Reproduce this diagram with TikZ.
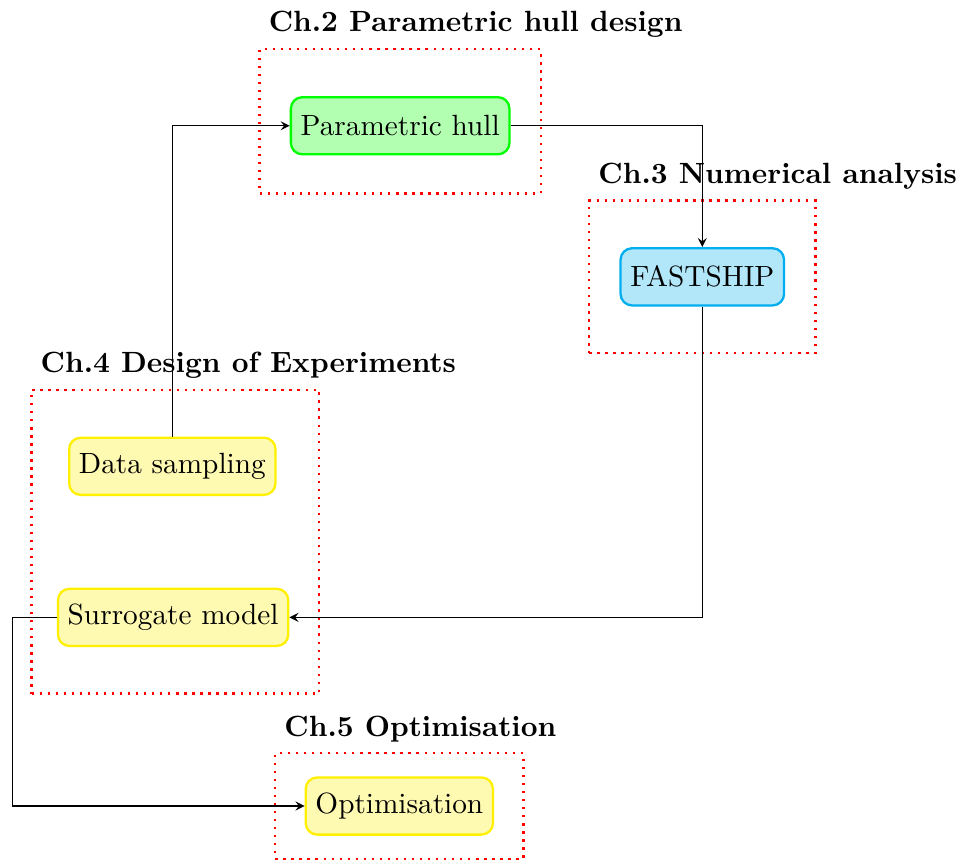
\documentclass[tikz,border=0pt]{standalone}
\usetikzlibrary{fit,positioning}
\definecolor{shipcyan}{RGB}{0,174,239}
\definecolor{doeyellow}{RGB}{255,240,0}
\tikzset{
  block/.style={draw, rounded corners, thick, minimum height=7mm},
  chapter/.style={draw=red, dotted, thick},
  title/.style={font=\bfseries},
  flow/.style={-stealth},
}

\begin{document}
\fontsize{10.2}{12.2}\selectfont
\begin{tikzpicture}
	\useasboundingbox (0,0) rectangle (11.78,-10.52);
	% blocks
	\node[block, draw=green, fill=green!30] (hull) at (4.90,-1.54) {Parametric hull};
	\node[block, draw=shipcyan, fill=shipcyan!30] (ship) at (8.60,-3.39) {FASTSHIP};
	\node[block, draw=doeyellow, fill=doeyellow!30] (sampling) at (2.11,-5.71) {Data sampling};
	\node[block, draw=doeyellow, fill=doeyellow!30] (surrogate) at (2.12,-7.56) {Surrogate model};
	\node[block, draw=doeyellow, fill=doeyellow!30] (optim) at (4.89,-9.87) {Optimisation};
	% chapters
	\node[chapter, fit=(hull), inner xsep=10.5pt, inner ysep=14.8pt, yshift=1.6pt] (ch2) {};
	\node[chapter, fit=(ship), inner xsep=10.5pt, inner ysep=16.2pt] (ch3) {};
	\node[chapter, fit=(sampling) (surrogate), inner xsep=9.6pt, inner ysep=16.2pt, xshift=0.8pt] (ch4) {};
	\node[chapter, fit=(optim), inner xsep=10.2pt, inner ysep=8pt] (ch5) {};
	\node[title, above right=0pt of ch2.north west] (ch2title) {Ch.2 Parametric hull design};
	\node[title, above right=0pt of ch3.north west] (ch3title) {Ch.3 Numerical analysis};
	\node[title, above right=0pt of ch4.north west] (ch4title) {Ch.4 Design of Experiments};
	\node[title, above right=0pt of ch5.north west] (ch5title) {Ch.5 Optimisation};
	% connections
	\coordinate (turn) at (0.15,-7.56);
	\draw[flow] (sampling) |- (hull);
	\draw[flow] (hull) -| (ship);
	\draw[flow] (ship) |- (surrogate);
	\draw[flow] (surrogate) -- (turn) |- (optim);
\end{tikzpicture}
\end{document}
